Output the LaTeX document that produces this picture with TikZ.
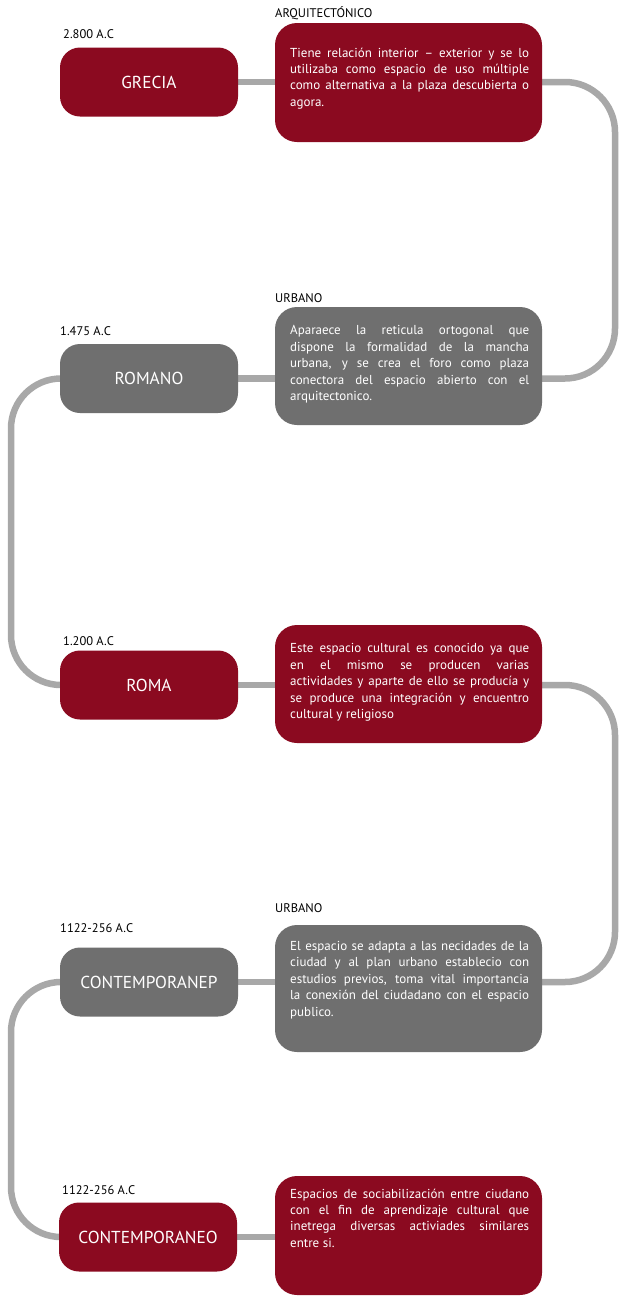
\documentclass[tikz,border=0pt]{standalone}
\usepackage{fontspec}
\setmainfont{PT Sans}
\usetikzlibrary{backgrounds}
\definecolor{boxred}{RGB}{139,10,32}
\definecolor{boxgray}{RGB}{111,111,111}
\definecolor{linegray}{RGB}{168,168,168}
\newlength{\dtw}\setlength{\dtw}{239pt}
\newcommand{\jline}[1]{\makebox[\dtw][s]{#1}}
\begin{document}
\begin{tikzpicture}[x=1pt,y=-1pt,
  titlebox/.style={rounded corners=20pt, minimum width=178pt, minimum height=69pt, inner sep=0pt, text=white, font=\fontsize{17.3}{20}\selectfont},
  detailbox/.style={rounded corners=22pt, minimum width=267pt, inner sep=0pt},
  dtext/.style={anchor=north west, inner sep=0pt, text=white, align=left, font=\fontsize{13}{16.4}\selectfont},
  lbl/.style={anchor=base west, inner sep=0pt, font=\fontsize{12.5}{14}\selectfont},
  conn/.style={draw=linegray, line width=6.5pt, rounded corners=50pt}]
\useasboundingbox (0,0) rectangle (620,1296);

% row 1
\node[titlebox, fill=boxred] (grecia) at (149,82) {GRECIA};
\node[detailbox, fill=boxred, minimum height=119pt] (d1) at (408.5,82.5) {};
\node[lbl] (l1) at (63,38) {2.800 A.C};
\node[lbl] (h1) at (275,17) {ARQUITECTÓNICO};
\node[dtext] (t1) at (290,47.5) {\jline{Tiene relación interior – exterior y se lo}\\
\jline{utilizaba como espacio de uso múltiple}\\
\jline{como alternativa a la plaza descubierta o}\\
agora.};

% row 2
\node[titlebox, fill=boxgray] (romano) at (149,378.5) {ROMANO};
\node[detailbox, fill=boxgray, minimum height=118pt] (d2) at (408.5,366) {};
\node[lbl] (l2) at (60,335) {1.475 A.C};
\node[lbl] (h2) at (275,302) {URBANO};
\node[dtext] (t2) at (290,325.5) {\jline{Aparaece la reticula ortogonal que}\\
\jline{dispone la formalidad de la mancha}\\
\jline{urbana, y se crea el foro como plaza}\\
\jline{conectora del espacio abierto con el}\\
arquitectonico.};

% row 3
\node[titlebox, fill=boxred] (roma) at (149,685) {ROMA};
\node[detailbox, fill=boxred, minimum height=118pt] (d3) at (408.5,684) {};
\node[lbl] (l3) at (63,645) {1.200 A.C};
\node[dtext] (t3) at (290,643.5) {\jline{Este espacio cultural es conocido ya que}\\
\jline{en el mismo se producen varias}\\
\jline{actividades y aparte de ello se producía y}\\
\jline{se produce una integración y encuentro}\\
cultural y religioso};

% row 4
\node[titlebox, fill=boxgray] (contp) at (149,982) {CONTEMPORANEP};
\node[detailbox, fill=boxgray, minimum height=127pt] (d4) at (408.5,988.5) {};
\node[lbl] (l4) at (60,932) {1122-256 A.C};
\node[lbl] (h4) at (275,912) {URBANO};
\node[dtext] (t4) at (290,941) {\jline{El espacio se adapta a las necidades de la}\\
\jline{ciudad y al plan urbano establecio con}\\
\jline{estudios previos, toma vital importancia}\\
\jline{la conexión del ciudadano con el espacio}\\
publico.};

% row 5
\node[titlebox, fill=boxred] (conto) at (148,1237) {CONTEMPORANEO};
\node[detailbox, fill=boxred, minimum height=119pt] (d5) at (408.5,1235.5) {};
\node[lbl] (l5) at (62,1194) {1122-256 A.C};
\node[dtext] (t5) at (290,1188.5) {\jline{Espacios de sociabilización entre ciudano}\\
\jline{con el fin de aprendizaje cultural que}\\
\jline{inetrega diversas activiades similares}\\
entre si.};

\coordinate (rx) at (615,0);
\coordinate (lx) at (11,0);

\begin{scope}[on background layer]
\fill[white] (0,0) rectangle (620,1296);
\draw[conn] (grecia.center) -- (d1.center |- grecia.center);
\draw[conn] (romano.center) -- (d2.center |- romano.center);
\draw[conn] (roma.center) -- (d3.center |- roma.center);
\draw[conn] (contp.center) -- (d4.center |- contp.center);
\draw[conn] (conto.center) -- (d5.center |- conto.center);
\draw[conn] (d1.center |- grecia.center) -- (rx |- grecia.center) -- (rx |- romano.center) -- (d2.center |- romano.center);
\draw[conn] (romano.center) -- (lx |- romano.center) -- (lx |- roma.center) -- (roma.center);
\draw[conn] (d3.center |- roma.center) -- (rx |- roma.center) -- (rx |- contp.center) -- (d4.center |- contp.center);
\draw[conn] (contp.center) -- (lx |- contp.center) -- (lx |- conto.center) -- (conto.center);
\end{scope}
\end{tikzpicture}
\end{document}
